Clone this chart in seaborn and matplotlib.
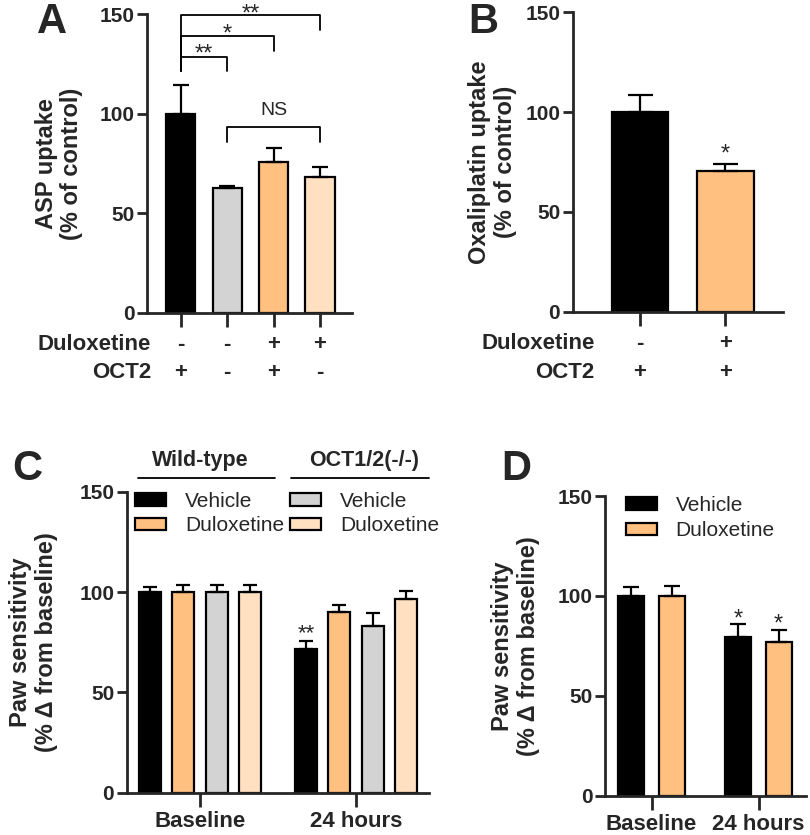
import matplotlib
matplotlib.use("Agg")
import matplotlib.pyplot as plt
import seaborn as sns
import pandas as pd
import numpy as np
from matplotlib.patches import Patch

# ---------------- data ----------------
A_groups = ["OCT2+ / Vehicle", "OCT2- / Vehicle", "OCT2+ / Duloxetine", "OCT2- / Duloxetine"]
A_mean = [100, 62.5, 75.6, 68.2]
A_sem = [14.5, 1.0, 7.4, 4.8]
A_dulox = ["-", "-", "+", "+"]
A_oct2 = ["+", "-", "+", "-"]

B_groups = ["Vehicle", "Duloxetine"]
B_mean = [100, 70.3]
B_sem = [8.4, 3.7]
B_dulox = ["-", "+"]
B_oct2 = ["+", "+"]

C_times = ["Baseline", "24 hours"]
C_groups = ["WT Vehicle", "WT Duloxetine", "KO Vehicle", "KO Duloxetine"]
C_legend = ["Vehicle", "Duloxetine", "Vehicle", "Duloxetine"]
C_baseline = [100, 100, 100, 100]
C_baseline_sem = [2.6, 3.6, 3.4, 3.6]
C_24h = [71.5, 90.0, 83.0, 96.7]
C_24h_sem = [4.2, 3.6, 6.8, 3.6]

D_times = ["Baseline", "24 hours"]
D_groups = ["Vehicle", "Duloxetine"]
D_baseline = [100, 100]
D_baseline_sem = [4.6, 5.1]
D_24h = [79.6, 76.9]
D_24h_sem = [6.2, 6.2]

BLACK = "#000000"
GRAY = "#D3D3D3"
ORANGE = "#FFC080"
PEACH = "#FFE1C2"

# ---------------- style ----------------
sns.set_style("ticks")
plt.rcParams["font.family"] = ["Liberation Sans", "DejaVu Sans"]
plt.rcParams["axes.linewidth"] = 2.0

W, H = 810, 835
fig = plt.figure(figsize=(W / 100, H / 100), dpi=100)


def add_ax(left, right, top, bottom):
    return fig.add_axes([left / W, 1 - bottom / H, (right - left) / W, (bottom - top) / H])


TICK_FS = 15
LAB_FS = 17
EDGE_LW = 1.6


def style_axis(ax, xlim):
    ax.set_ylim(0, 150)
    ax.set_yticks([0, 50, 100, 150])
    ax.set_xlim(*xlim)
    sns.despine(ax=ax)
    ax.tick_params(axis="y", length=7, width=2, labelsize=TICK_FS, pad=2)
    ax.tick_params(axis="x", length=10, width=2, labelsize=16, pad=3)
    for lab in ax.get_yticklabels():
        lab.set_fontweight("bold")
    ax.set_xlabel("")


def err(ax, xs, ys, es, cap):
    ax.errorbar(xs, ys, yerr=[np.zeros(len(es)), es], fmt="none", ecolor="black",
                elinewidth=1.6, capsize=cap, capthick=1.6, zorder=5, clip_on=False)


def star(ax, x, yc, text, fs=17):
    ax.annotate(text, xy=(x, yc), xytext=(0, -0.58 * fs), textcoords="offset points",
                ha="center", va="baseline", fontsize=fs, annotation_clip=False)


def rows(ax, xs, row1, row2, label1, label2, xlab, off1, off2):
    for x, a, b in zip(xs, row1, row2):
        for t, off in ((a, off1), (b, off2)):
            ax.annotate(t, xy=(x, 0), xycoords=("data", "axes fraction"), xytext=(0, -off),
                        textcoords="offset points", ha="center", va="baseline",
                        fontsize=16, fontweight="bold", annotation_clip=False)
    for t, off in ((label1, off1), (label2, off2)):
        ax.annotate(t, xy=(xlab, 0), xycoords="axes fraction", xytext=(0, -off),
                    textcoords="offset points", ha="right", va="baseline",
                    fontsize=16, fontweight="bold", annotation_clip=False)


def panel_letter(x, y_base, t):
    fig.text(x / W, 1 - y_base / H, t, fontsize=30, fontweight="bold", ha="center", va="baseline")


# ---------------- Panel A ----------------
axA = add_ax(147, 352, 14, 313)
sns.barplot(x=A_groups, y=A_mean, hue=A_groups, palette=[BLACK, GRAY, ORANGE, PEACH],
            saturation=1, legend=False, width=0.63, edgecolor="black", linewidth=EDGE_LW, ax=axA)
style_axis(axA, (-0.73, 3.69))
axA.set_xticklabels([])
err(axA, range(4), A_mean, A_sem, 6)
axA.set_ylabel("ASP uptake\n(% of control)", fontsize=LAB_FS, fontweight="bold", linespacing=1.15)
axA.yaxis.set_label_coords(-0.31, 0.5)
rows(axA, range(4), A_dulox, A_oct2, "Duloxetine", "OCT2", 0.02, 26.5, 46.5)

# significance brackets
def bracket(ax, x0, x1, ytop, yleg0, yleg1):
    ax.plot([x0, x0, x1, x1], [yleg0, ytop, ytop, yleg1], color="black", lw=1.3, clip_on=False)

bracket(axA, 0, 1, 128.6, 121.4, 121.4)
bracket(axA, 0, 2, 139.0, 121.4, 131.5)
bracket(axA, 0, 3, 149.7, 121.4, 142.0)
bracket(axA, 1, 3, 93.4, 86.0, 86.0)
star(axA, 0.5, 133.5, "**")
star(axA, 1.0, 143.5, "*")
star(axA, 1.5, 153.5, "**")
axA.annotate("NS", xy=(2, 101.8), ha="center", va="center", fontsize=14, annotation_clip=False)

# ---------------- Panel B ----------------
axB = add_ax(572.7, 782.7, 12.3, 311.7)
sns.barplot(x=B_groups, y=B_mean, hue=B_groups, palette=[BLACK, ORANGE], saturation=1,
            legend=False, width=0.655, edgecolor="black", linewidth=EDGE_LW, ax=axB)
style_axis(axB, (-0.787, 1.669))
axB.set_xticklabels([])
err(axB, range(2), B_mean, B_sem, 9)
axB.set_ylabel("Oxaliplatin uptake\n(% of control)", fontsize=LAB_FS, fontweight="bold", linespacing=1.15)
axB.yaxis.set_label_coords(-0.267, 0.5)
rows(axB, range(2), B_dulox, B_oct2, "Duloxetine", "OCT2", 0.105, 27, 47.5)
star(axB, 1, 82.8, "*")

# ---------------- Panel C ----------------
axC = add_ax(126.7, 429, 491.7, 792.7)
dfC = pd.DataFrame({
    "time": np.repeat(C_times, len(C_groups)),
    "group": C_groups * len(C_times),
    "value": C_baseline + C_24h,
})
semC = {g: [b, h] for g, b, h in zip(C_groups, C_baseline_sem, C_24h_sem)}
sns.barplot(data=dfC, x="time", y="value", hue="group", hue_order=C_groups, order=C_times,
            palette=[BLACK, ORANGE, GRAY, PEACH], saturation=1, width=0.852, gap=0.34,
            edgecolor="black", linewidth=EDGE_LW, ax=axC)
style_axis(axC, (-0.47, 1.468))
for cont, g in zip(axC.containers, C_groups):
    xs = [p.get_x() + p.get_width() / 2 for p in cont.patches]
    ys = [p.get_height() for p in cont.patches]
    err(axC, xs, ys, semC[g], 4.8)
cont0 = axC.containers[0]
star(axC, cont0.patches[1].get_x() + cont0.patches[1].get_width() / 2, 83.0, "**", fs=16)
for lab in axC.get_xticklabels():
    lab.set_fontweight("bold")
axC.set_ylabel("Paw sensitivity\n(% \u0394 from baseline)", fontsize=LAB_FS, fontweight="bold",
               linespacing=1.15)
axC.yaxis.set_label_coords(-0.227, 0.5)
handles = [Patch(facecolor=c, edgecolor="black", linewidth=EDGE_LW)
           for c in [BLACK, ORANGE, GRAY, PEACH]]
axC.legend(handles, C_legend, ncol=2, loc="upper left", bbox_to_anchor=(0.027, 1.0),
           frameon=False, fontsize=15, handlelength=1.5, handleheight=0.55,
           handletextpad=0.9, columnspacing=0.3, labelspacing=0.27, borderpad=0,
           borderaxespad=0)
# group headers
for x0, x1, xc, t in ((0.037, 0.49, 0.2425, "Wild-type"), (0.545, 1.0, 0.787, "OCT1/2(-/-)")):
    axC.plot([x0, x1], [1.0455, 1.0455], transform=axC.transAxes, color="black", lw=1.3,
             clip_on=False)
    axC.text(xc, 1.105, t, transform=axC.transAxes, ha="center", va="center",
             fontsize=15.5, fontweight="bold")

# ---------------- Panel D ----------------
axD = add_ax(605, 806, 496, 795.7)
dfD = pd.DataFrame({
    "time": np.repeat(D_times, len(D_groups)),
    "group": D_groups * len(D_times),
    "value": D_baseline + D_24h,
})
semD = {g: [b, h] for g, b, h in zip(D_groups, D_baseline_sem, D_24h_sem)}
sns.barplot(data=dfD, x="time", y="value", hue="group", hue_order=D_groups, order=D_times,
            palette=[BLACK, ORANGE], saturation=1, width=0.754, gap=0.355,
            edgecolor="black", linewidth=EDGE_LW, ax=axD)
style_axis(axD, (-0.435, 1.444))
for cont, g in zip(axD.containers, D_groups):
    xs = [p.get_x() + p.get_width() / 2 for p in cont.patches]
    ys = [p.get_height() for p in cont.patches]
    err(axD, xs, ys, semD[g], 6)
for cont, yc in zip(axD.containers, [92.1, 89.6]):
    p = cont.patches[1]
    star(axD, p.get_x() + p.get_width() / 2, yc, "*")
for lab in axD.get_xticklabels():
    lab.set_fontweight("bold")
axD.set_ylabel("Paw sensitivity\n(% \u0394 from baseline)", fontsize=LAB_FS, fontweight="bold",
               linespacing=1.15)
axD.yaxis.set_label_coords(-0.323, 0.5)
handlesD = [Patch(facecolor=c, edgecolor="black", linewidth=EDGE_LW) for c in [BLACK, ORANGE]]
axD.legend(handlesD, D_groups, loc="upper left", bbox_to_anchor=(0.103, 1.0),
           frameon=False, fontsize=15, handlelength=1.5, handleheight=0.55,
           handletextpad=0.9, labelspacing=0.3, borderpad=0, borderaxespad=0)

panel_letter(52, 33, "A")
panel_letter(483, 33, "B")
panel_letter(27, 480, "C")
panel_letter(516, 480, "D")

fig.savefig("out.png", dpi=100, facecolor="white")
